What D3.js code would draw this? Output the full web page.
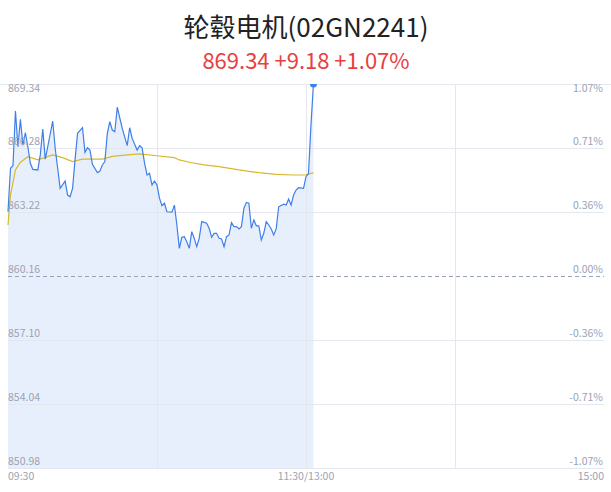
<!DOCTYPE html>
<html><head><meta charset="utf-8">
<script src="https://cdn.jsdelivr.net/npm/d3@7"></script>
<style>body{margin:0;background:#fff;}svg{display:block;}</style>
</head><body><div id="c"></div>
<script>
const title = "轮毂电机(02GN2241)";
const subtitle = "869.34 +9.18 +1.07%";
const priceTicks = [869.34, 866.28, 863.22, 860.16, 857.10, 854.04, 850.98];
const pctTicks = ["1.07%", "0.71%", "0.36%", "0.00%", "-0.36%", "-0.71%", "-1.07%"];
const timeLabels = ["09:30", "11:30/13:00", "15:00"];
const prevClose = 860.16;
// trading-minute index (0 = 09:30, 120 = 11:30/13:00, 240 = 15:00)
const priceMinutes = [0,1,2,3,4,5,6,7,8,9,10,12,13,14,15,16,18,19,20,21,23,24,25,26,27,28,30,31,32,33,34,36,37,38,39,40,41,42,43,44,46,48,49,50,52,53,54,55,56,57,58,59,60,61,62,63,64,66,67,68,69,70,71,72,73,74,75,76,77,78,80,81,82,83,84,85,86,87,88,89,90,91,92,93,94,95,96,97,98,99,100,101,102,103,104,105,106,107,108,109,111,112,113,114,115,116,117,119,120,121,122,123];
const prices = [863.23,865.31,865.43,868.05,866.34,867.65,866.42,867.01,866.34,865.55,865.26,865.23,865.95,867.19,865.75,866.34,867.57,866.27,865.31,864.35,864.70,864.03,863.95,864.35,865.71,866.98,867.25,866.07,866.29,866.18,865.50,865.10,865.18,865.47,865.63,866.98,867.54,867.14,867.06,868.23,867.22,866.39,867.25,866.74,866.18,866.39,866.29,865.55,864.99,865.07,864.51,864.70,864.51,863.88,863.52,863.64,863.23,863.21,863.55,862.60,861.48,862.01,862.04,861.80,861.48,862.28,861.96,861.56,861.96,862.76,862.68,862.44,862.01,862.20,862.20,861.96,861.93,861.56,862.04,862.12,862.71,862.52,862.52,862.41,862.52,863.40,863.68,863.64,862.44,862.84,862.56,862.56,861.88,862.20,862.76,862.60,862.41,862.12,862.41,863.47,863.59,863.55,863.84,863.55,864.03,864.27,864.38,864.35,864.91,865.05,867.38,869.34];
const avgMinutes = [0,1,3,5,8,12,18,22,26,30,38,42,48,53,60,67,69,73,79,85,93,101,108,115,120,123];
const avgPrices = [862.60,864.03,865.23,865.60,865.86,865.71,865.95,865.82,865.63,865.75,865.75,865.88,865.95,866.00,865.91,865.82,865.71,865.60,865.47,865.39,865.23,865.10,865.02,864.99,864.99,865.10];

const W = 611, H = 492;
const L = 8, R = 604, T = 84, B = 468;
const svg = d3.select("#c").append("svg").attr("width", W).attr("height", H);
const font = "'Noto Sans CJK SC','Noto Sans',sans-serif";

const x = d3.scaleLinear().domain([0, 240]).range([L, R]);
const y = d3.scaleLinear().domain([priceTicks[priceTicks.length-1], priceTicks[0]]).range([B, T]);

svg.append("text").attr("x", 306).attr("y", 37).attr("text-anchor", "middle")
  .attr("font-family", font).attr("font-size", 26).attr("fill", "#222").text(title);
svg.append("text").attr("x", 306).attr("y", 69).attr("text-anchor", "middle")
  .attr("font-family", font).attr("font-size", 22).attr("fill", "#e8403f").text(subtitle);

const pts = priceMinutes.map((m, i) => [m, prices[i]]);
const avg = avgMinutes.map((m, i) => [m, avgPrices[i]]);

// area fill
svg.append("path").datum(pts)
  .attr("d", d3.area().x(d => x(d[0])).y0(B).y1(d => y(d[1])))
  .attr("fill", "#e8effc");

// grid
const grid = svg.append("g");
priceTicks.forEach((v, i) => {
  if (v === prevClose) return;
  grid.append("line").attr("x1", i === 0 ? 0 : L).attr("x2", i === 0 ? W : R)
    .attr("y1", Math.round(y(v)) + 0.5).attr("y2", Math.round(y(v)) + 0.5)
    .attr("stroke", "#e4e7ee").attr("stroke-width", 1);
});
[60, 120, 180].forEach(m => {
  grid.append("line").attr("x1", Math.round(x(m)) + 0.5).attr("x2", Math.round(x(m)) + 0.5)
    .attr("y1", T).attr("y2", B).attr("stroke", "#e4e7ee").attr("stroke-width", 1);
});
grid.append("line").attr("x1", L).attr("x2", R)
  .attr("y1", Math.round(y(prevClose)) + 0.5).attr("y2", Math.round(y(prevClose)) + 0.5)
  .attr("stroke", "#98a2b8").attr("stroke-width", 1).attr("stroke-dasharray", "4,3");

// lines
svg.append("path").datum(avg)
  .attr("d", d3.line().x(d => x(d[0])).y(d => y(d[1])))
  .attr("fill", "none").attr("stroke", "#d6b92c").attr("stroke-width", 1.2);
svg.append("path").datum(pts)
  .attr("d", d3.line().x(d => x(d[0])).y(d => y(d[1])))
  .attr("fill", "none").attr("stroke", "#3f7fe9").attr("stroke-width", 1.2);

svg.append("clipPath").attr("id", "clip").append("rect")
  .attr("x", 0).attr("y", T).attr("width", W).attr("height", B - T);
const last = pts[pts.length - 1];
svg.append("circle").attr("clip-path", "url(#clip)")
  .attr("cx", x(last[0])).attr("cy", y(last[1])).attr("r", 3.5).attr("fill", "#3f7fe9");

// labels
const lab = svg.append("g").attr("font-family", font).attr("font-size", 10.5).attr("fill", "#9ba2b2");
priceTicks.forEach((v, i) => {
  const yy = i === 0 ? y(v) + 5 : y(v) - 6;
  lab.append("text").attr("x", L).attr("y", yy).attr("dominant-baseline", "middle")
    .text(v.toFixed(2));
  lab.append("text").attr("x", R - 1).attr("y", yy).attr("dominant-baseline", "middle")
    .attr("text-anchor", "end").text(pctTicks[i]);
});
const tx = [0, 120, 240], ta = ["start", "middle", "end"];
timeLabels.forEach((t, i) => {
  lab.append("text").attr("x", x(tx[i])).attr("y", 477).attr("dominant-baseline", "middle")
    .attr("text-anchor", ta[i]).text(t);
});
</script></body></html>
